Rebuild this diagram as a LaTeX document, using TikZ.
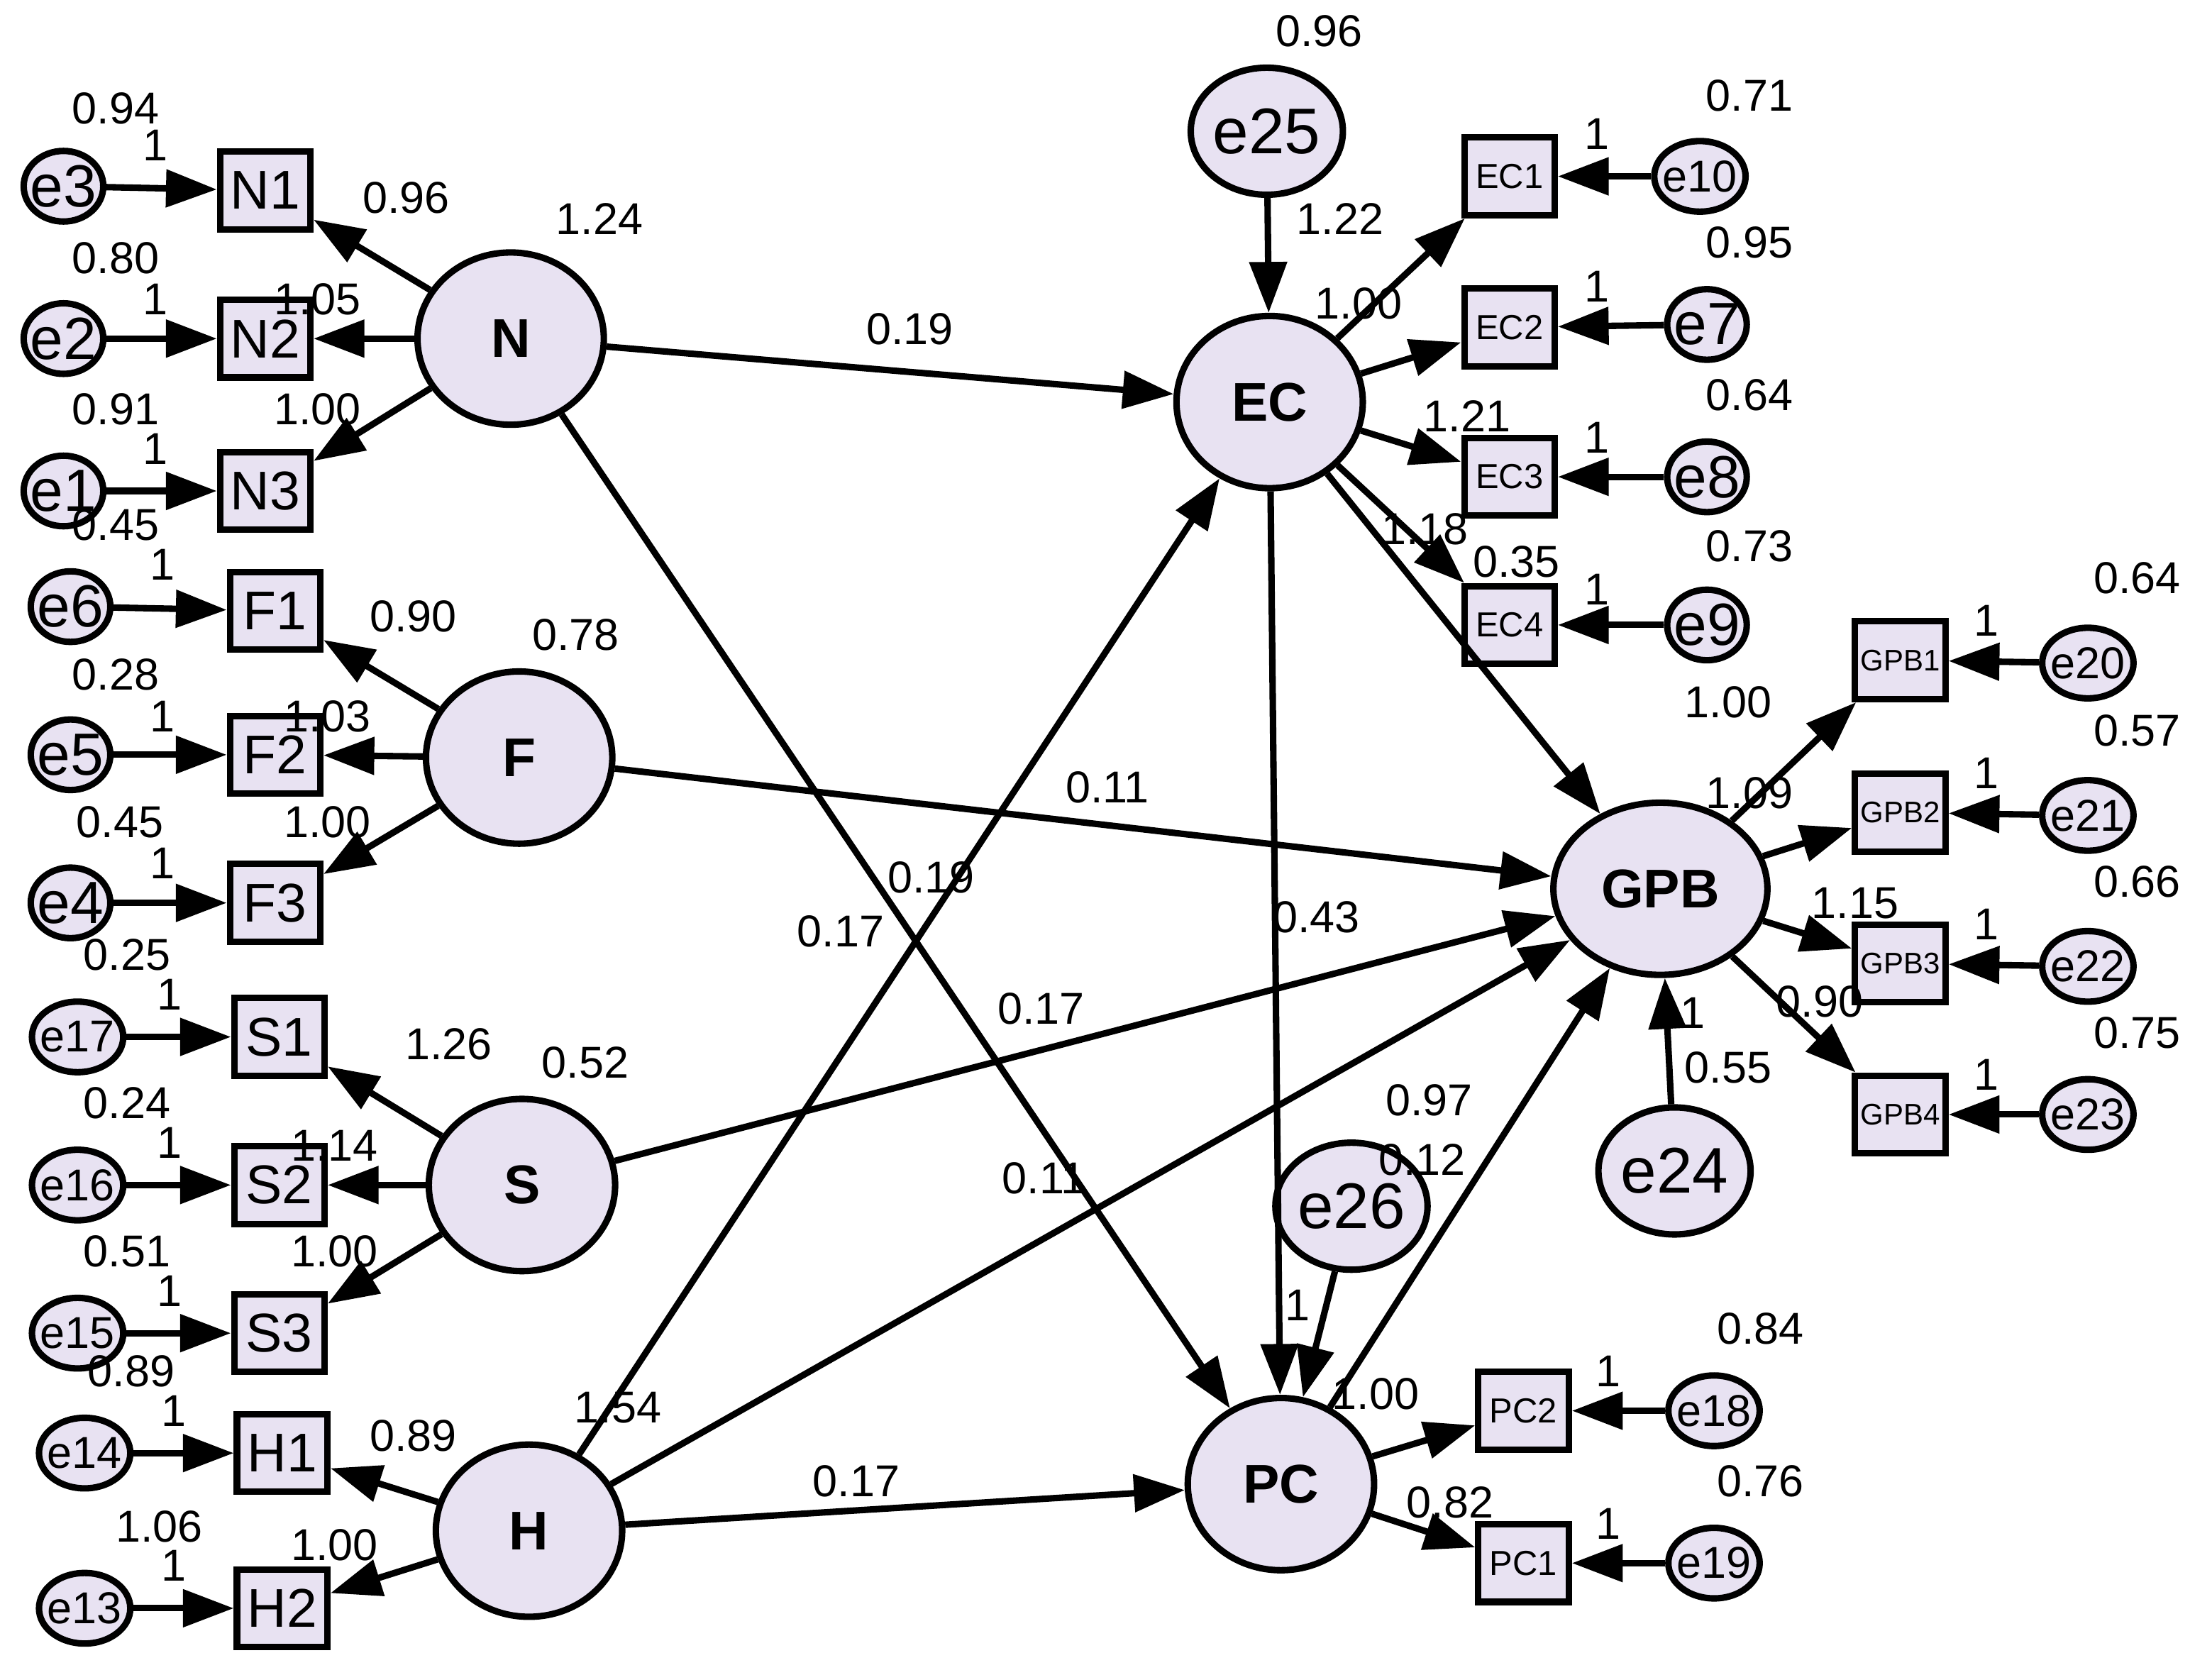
\documentclass[tikz,border=0pt]{standalone}
\usepackage{fontspec}
\setmainfont{Liberation Sans}
\usetikzlibrary{arrows.meta, shapes.geometric}
\definecolor{lav}{RGB}{232,226,242}
\tikzset{
  lat/.style={ellipse, draw, line width=1.3pt, fill=lav, minimum width=1.32cm, minimum height=1.22cm, font=\fontsize{11}{12}\selectfont\bfseries},
  ind/.style={rectangle, draw, line width=1.3pt, fill=lav, minimum width=0.64cm, minimum height=0.55cm, inner sep=0pt, font=\fontsize{11}{12}\selectfont},
  err/.style={ellipse, draw, line width=1.3pt, fill=lav, minimum width=0.56cm, minimum height=0.5cm, inner sep=-1pt, font=\fontsize{9}{10}\selectfont},
  bigerr/.style={err, font=\fontsize{12}{13}\selectfont},
  dist/.style={ellipse, draw, line width=1.3pt, fill=lav, minimum width=0.96cm, minimum height=0.9cm, inner sep=0pt, font=\fontsize{13}{14}\selectfont},
  path/.style={draw, line width=1.3pt, -{Triangle[length=0.36cm, width=0.26cm]}},
  lab/.style={font=\fontsize{9}{10}\selectfont, inner sep=0pt}
}
\begin{document}
\begin{tikzpicture}[x=0.01cm, y=-0.01cm]
    % frame
    \useasboundingbox[fill=white] (0,0) rectangle (1568,1187);
    % latent variables
    \node[lat] (N) at (362,240) {N};
    \node[lat] (F) at (368,537) {F};
    \node[lat] (S) at (370,840) {S};
    \node[lat] (H) at (375,1085) {H};
    \node[lat] (EC) at (900,285) {EC};
    \node[lat] (PC) at (908,1052) {PC};
    \node[lat] (GPB) at (1177,630) {GPB};
    \node[dist] (e25) at (898,93) {e25};
    \node[dist] (e24) at (1187,830) {e24};
    \node[dist] (e26) at (958,855) {e26};
    % indicators
    \node[ind] (N1) at (188,135) {N1};
    \node[ind] (N2) at (188,240) {N2};
    \node[ind] (N3) at (188,348) {N3};
    \node[ind] (F1) at (195,433) {F1};
    \node[ind] (F2) at (195,535) {F2};
    \node[ind] (F3) at (195,640) {F3};
    \node[ind] (S1) at (198,735) {S1};
    \node[ind] (S2) at (198,840) {S2};
    \node[ind] (S3) at (198,945) {S3};
    \node[ind] (H1) at (200,1030) {H1};
    \node[ind] (H2) at (200,1140) {H2};
    \node[ind,font=\fontsize{7}{8}\selectfont] (EC1) at (1070,125) {EC1};
    \node[ind,font=\fontsize{7}{8}\selectfont] (EC2) at (1070,232) {EC2};
    \node[ind,font=\fontsize{7}{8}\selectfont] (EC3) at (1070,338) {EC3};
    \node[ind,font=\fontsize{7}{8}\selectfont] (EC4) at (1070,443) {EC4};
    \node[ind,font=\fontsize{6}{7}\selectfont] (GPB1) at (1347,468) {GPB1};
    \node[ind,font=\fontsize{6}{7}\selectfont] (GPB2) at (1347,576) {GPB2};
    \node[ind,font=\fontsize{6}{7}\selectfont] (GPB3) at (1347,683) {GPB3};
    \node[ind,font=\fontsize{6}{7}\selectfont] (GPB4) at (1347,790) {GPB4};
    \node[ind,font=\fontsize{7}{8}\selectfont] (PC2) at (1080,1000) {PC2};
    \node[ind,font=\fontsize{7}{8}\selectfont] (PC1) at (1080,1108) {PC1};
    % errors
    \node[bigerr] (e3) at (45,132) {e3};
    \node[bigerr] (e2) at (45,240) {e2};
    \node[bigerr] (e1) at (45,348) {e1};
    \node[bigerr] (e6) at (50,430) {e6};
    \node[bigerr] (e5) at (50,535) {e5};
    \node[bigerr] (e4) at (50,640) {e4};
    \node[err] (e17) at (55,735) {e17};
    \node[err] (e16) at (55,840) {e16};
    \node[err] (e15) at (55,945) {e15};
    \node[err] (e14) at (60,1030) {e14};
    \node[err] (e13) at (60,1140) {e13};
    \node[err] (e10) at (1205,125) {e10};
    \node[bigerr] (e7) at (1210,230) {e7};
    \node[bigerr] (e8) at (1210,338) {e8};
    \node[bigerr] (e9) at (1210,443) {e9};
    \node[err] (e20) at (1480,470) {e20};
    \node[err] (e21) at (1480,578) {e21};
    \node[err] (e22) at (1480,685) {e22};
    \node[err] (e23) at (1480,790) {e23};
    \node[err] (e18) at (1215,1000) {e18};
    \node[err] (e19) at (1215,1108) {e19};
    % measurement paths
    \foreach \l/\i in {N/N1, N/N2, N/N3, F/F1, F/F2, F/F3, S/S1, S/S2, S/S3, H/H1, H/H2,
                       EC/EC1, EC/EC2, EC/EC3, EC/EC4, GPB/GPB1, GPB/GPB2, GPB/GPB3, GPB/GPB4, PC/PC2, PC/PC1}
      \draw[path] (\l) -- (\i);
    \foreach \e/\i in {e3/N1, e2/N2, e1/N3, e6/F1, e5/F2, e4/F3, e17/S1, e16/S2, e15/S3, e14/H1, e13/H2,
                       e10/EC1, e7/EC2, e8/EC3, e9/EC4, e20/GPB1, e21/GPB2, e22/GPB3, e23/GPB4, e18/PC2, e19/PC1}
      \draw[path] (\e) -- (\i);
    % structural paths
    \draw[path] (N) -- (EC);
    \draw[path] (N) -- (PC);
    \draw[path] (F) -- (GPB);
    \draw[path] (S) -- (GPB);
    \draw[path] (H) -- (EC);
    \draw[path] (H) -- (GPB);
    \draw[path] (H) -- (PC);
    \draw[path] (EC) -- (GPB);
    \draw[path] (EC) -- (PC);
    \draw[path] (PC) -- (GPB);
    \draw[path] (e25) -- (EC);
    \draw[path] (e24) -- (GPB);
    \draw[path] (e26) -- (PC);
    % estimates
    \foreach \x/\y/\t in {82/77/0.94, 110/103/1, 288/140/0.96, 425/155/1.24, 82/183/0.80, 110/212/1, 225/212/1.05,
      82/290/0.91, 110/318/1, 225/290/1.00, 82/372/0.45, 115/400/1, 293/437/0.90, 408/450/0.78,
      82/478/0.28, 115/508/1, 232/508/1.03, 85/583/0.45, 115/612/1, 232/583/1.00,
      90/677/0.25, 120/705/1, 318/740/1.26, 415/753/0.52, 90/782/0.24, 120/810/1, 237/812/1.14,
      90/887/0.51, 120/915/1, 237/887/1.00, 93/972/0.89, 123/1000/1, 293/1018/0.89, 438/998/1.54,
      113/1082/1.06, 123/1110/1, 237/1095/1.00,
      645/233/0.19, 785/558/0.11, 660/622/0.19, 596/660/0.17, 738/715/0.17, 740/835/0.11, 607/1050/0.17, 933/650/0.43,
      935/22/0.96, 950/155/1.22, 963/215/1.00, 1040/295/1.21, 1010/375/1.18, 1075/398/0.35,
      1240/68/0.71, 1132/95/1, 1240/172/0.95, 1132/203/1, 1240/280/0.64, 1132/310/1, 1240/387/0.73, 1132/418/1,
      1515/410/0.64, 1408/440/1, 1225/498/1.00, 1515/518/0.57, 1408/548/1, 1240/562/1.09,
      1515/625/0.66, 1408/655/1, 1315/640/1.15, 1290/710/0.90, 1515/732/0.75, 1408/762/1,
      1200/718/1, 1225/757/0.55, 1013/780/0.97, 1008/822/0.12, 920/925/1, 975/988/1.00, 1028/1065/0.82,
      1248/942/0.84, 1140/972/1, 1248/1050/0.76, 1140/1080/1}
      \node[lab] at (\x,\y) {\t};
\end{tikzpicture}
\end{document}
